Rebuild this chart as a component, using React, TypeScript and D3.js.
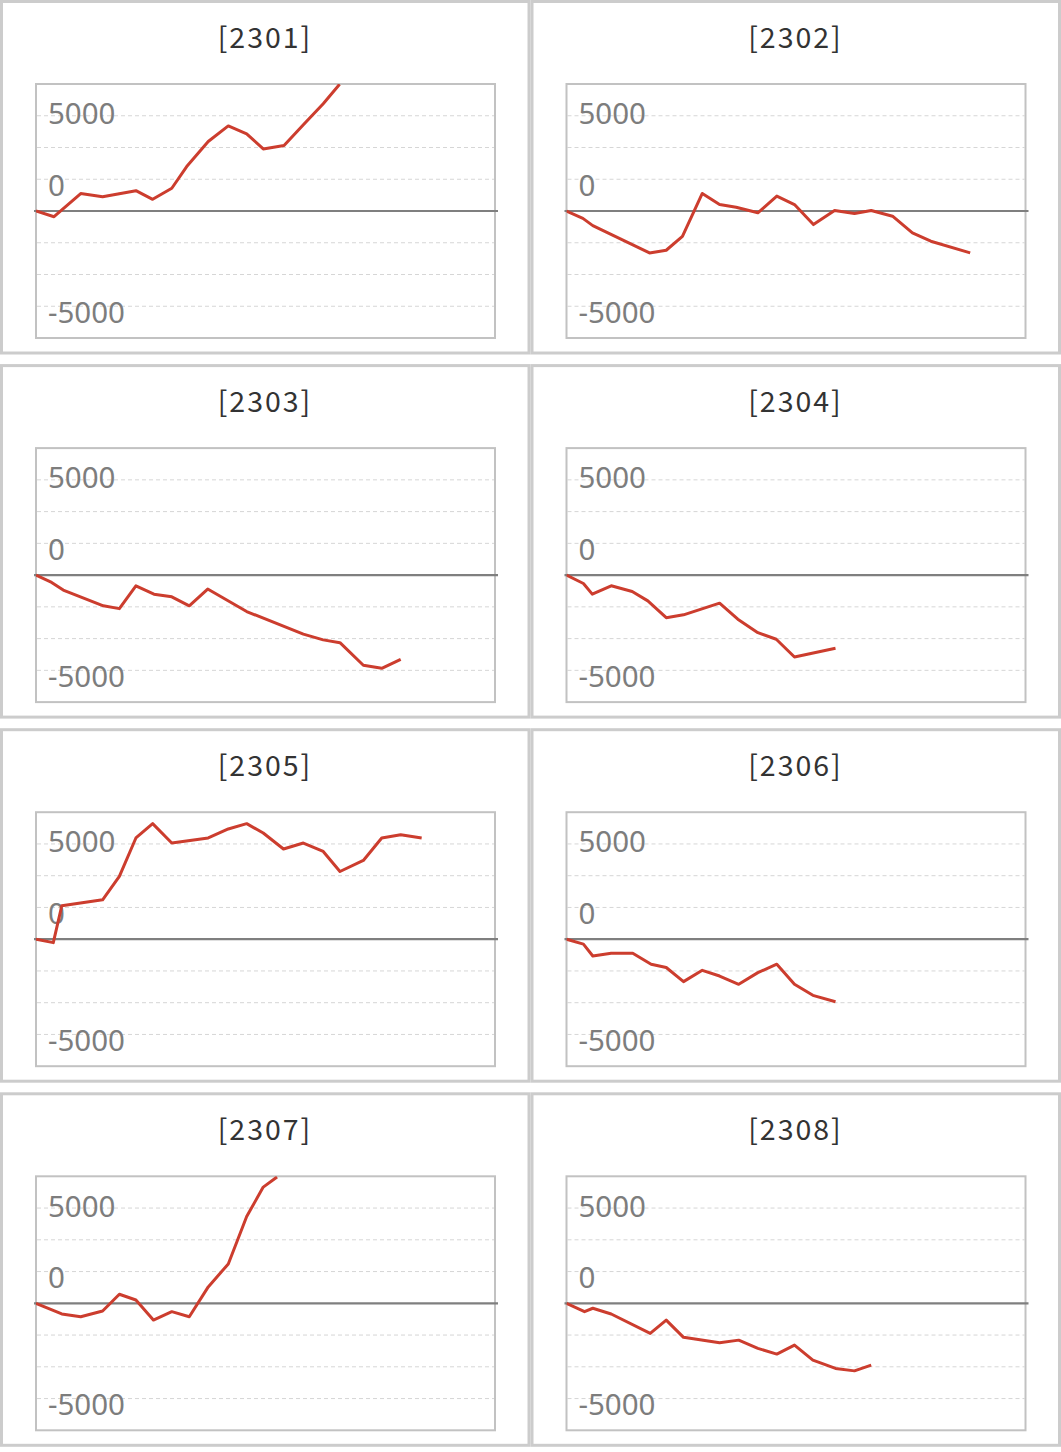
import * as d3 from 'd3';

// panel titles (year+month codes)
const titles = ['[2301]', '[2302]', '[2303]', '[2304]', '[2305]', '[2306]', '[2307]', '[2308]'];

// x positions (trading-day index) and cumulative values per panel
const days2301 = [0, 0.98, 2.43, 3.62, 5.43, 6.34, 7.38, 8.19, 9.36, 10.45, 11.45, 12.35, 13.48, 14.53, 15.61, 16.5];
const pnl2301 = [0, -450, 1370, 1130, 1600, 920, 1790, 3500, 5470, 6700, 6080, 4890, 5150, 6790, 8440, 9980];

const days2302 = [0, 0.89, 1.43, 4.51, 5.42, 6.3, 7.38, 8.32, 9.22, 10.4, 11.43, 12.39, 13.42, 14.57, 15.65, 16.56, 17.72, 18.8, 19.8, 21.94];
const pnl2302 = [0, -580, -1150, -3300, -3090, -2000, 1380, 510, 300, -140, 1170, 510, -1070, 40, -200, 40, -410, -1720, -2380, -3300];

const days2303 = [0, 0.85, 1.48, 3.66, 4.53, 5.43, 6.41, 7.38, 8.33, 9.33, 11.45, 14.53, 15.61, 16.52, 17.79, 18.79, 19.82];
const pnl2303 = [0, -580, -1180, -2420, -2640, -840, -1500, -1710, -2420, -1100, -2870, -4650, -5100, -5320, -7100, -7340, -6630];

const days2304 = [0, 0.92, 1.4, 2.43, 3.57, 4.42, 5.42, 6.36, 8.32, 9.31, 10.4, 11.4, 12.39, 14.62];
const pnl2304 = [0, -660, -1500, -840, -1290, -2030, -3350, -3130, -2210, -3470, -4530, -5050, -6450, -5760];

const days2305 = [0, 0.94, 1.4, 3.62, 4.53, 5.43, 6.34, 7.38, 9.36, 10.45, 11.45, 12.35, 13.45, 14.53, 15.61, 16.52, 17.79, 18.79, 19.82, 20.96];
const pnl2305 = [0, -270, 2630, 3100, 4940, 7970, 9100, 7570, 7970, 8680, 9100, 8360, 7100, 7570, 6910, 5330, 6200, 7970, 8230, 7970];

const days2306 = [0, 0.92, 1.43, 2.43, 3.6, 4.6, 5.42, 6.36, 7.38, 8.32, 9.36, 10.4, 11.43, 12.39, 13.39, 14.62];
const pnl2306 = [0, -390, -1320, -1100, -1100, -1970, -2230, -3340, -2450, -2900, -3550, -2630, -1970, -3550, -4420, -4920];

const days2307 = [0, 1.4, 2.43, 3.62, 4.53, 5.43, 6.38, 7.38, 8.33, 9.36, 10.45, 11.45, 12.35, 13.1];
const pnl2307 = [0, -840, -1060, -610, 710, 260, -1320, -660, -1060, 1290, 3100, 6830, 9150, 9950];

const days2308 = [0, 0.98, 1.43, 2.43, 4.55, 5.42, 6.36, 8.32, 9.36, 10.4, 11.43, 12.39, 13.39, 14.62, 15.65, 16.56];
const pnl2308 = [0, -660, -390, -840, -2370, -1320, -2680, -3110, -2900, -3550, -4000, -3290, -4470, -5130, -5320, -4870];

const allDays = [days2301, days2302, days2303, days2304, days2305, days2306, days2307, days2308];
const allPnl = [pnl2301, pnl2302, pnl2303, pnl2304, pnl2305, pnl2306, pnl2307, pnl2308];

// grid every 2500, axis labels as drawn in the source
const gridValues = [7500, 5000, 2500, -2500, -5000, -7500];
const yLabels = ['5000', '0', '-5000'];
const yLabelAt = [7500, 2500, -7500];

const W = 1061;
const H = 1452;
const COL_W = 530.5;
const ROW_H = 364.1;

const x = d3.scaleLinear().domain([0, 25]).range([36, 496]);
const y = d3.scaleLinear().domain([-10000, 10000]).range([338, 84]);
const labelDy = [-3, 5, 5];

function Panel({ idx }: { idx: number }) {
  const col = idx % 2;
  const row = Math.floor(idx / 2);
  const days = allDays[idx];
  const pnl = allPnl[idx];
  const pts = days.map((d, i) => [d, pnl[i]] as [number, number]);
  const line = d3.line<[number, number]>().x(d => x(d[0])).y(d => y(d[1]));
  const clipId = `clip-${idx}`;
  const left = 36, right = 495, top = y(10000), bottom = y(-10000);

  return (
    <g transform={`translate(${col * COL_W}, ${row * ROW_H})`}>
      <rect x={1.5} y={1.5} width={527.5} height={351.5} fill="#fff" stroke="#cccccc" strokeWidth={3} />
      <text x={265} y={48} textAnchor="middle" fontFamily="'Noto Sans CJK JP', 'Noto Sans', sans-serif"
        fontWeight={400} fontSize={28.5} letterSpacing={2} fill="#333">{titles[idx]}</text>
      <defs>
        <clipPath id={clipId}>
          <rect x={left} y={top} width={right - left} height={bottom - top} />
        </clipPath>
      </defs>
      {gridValues.map(v => (
        <line key={v} x1={left + 1} x2={right - 1} y1={y(v)} y2={y(v)}
          stroke="#d6d6d6" strokeWidth={1} strokeDasharray="4,3" />
      ))}
      {yLabels.map((lab, i) => (
        <text key={lab} x={48} y={y(yLabelAt[i]) + labelDy[i]} dominantBaseline="central"
          fontFamily="'Noto Sans', sans-serif" fontSize={29.5} fill="#7d7d7d">{lab}</text>
      ))}
      <rect x={left} y={top} width={right - left} height={bottom - top} fill="none" stroke="#c2c2c2" strokeWidth={2} />
      <line x1={left - 2} x2={right + 3} y1={y(0)} y2={y(0)} stroke="#7f7f7f" strokeWidth={2.2} />
      <path d={line(pts) ?? ''} fill="none" stroke="#cc3d2e" strokeWidth={3}
        strokeLinejoin="round" clipPath={`url(#${clipId})`} />
    </g>
  );
}

export default function App() {
  return (
    <svg width={W} height={H} style={{ position: 'absolute', left: 0, top: 0, background: '#fff' }}>
      <rect width={W} height={H} fill="#fff" />
      {titles.map((_, i) => <Panel key={i} idx={i} />)}
    </svg>
  );
}
